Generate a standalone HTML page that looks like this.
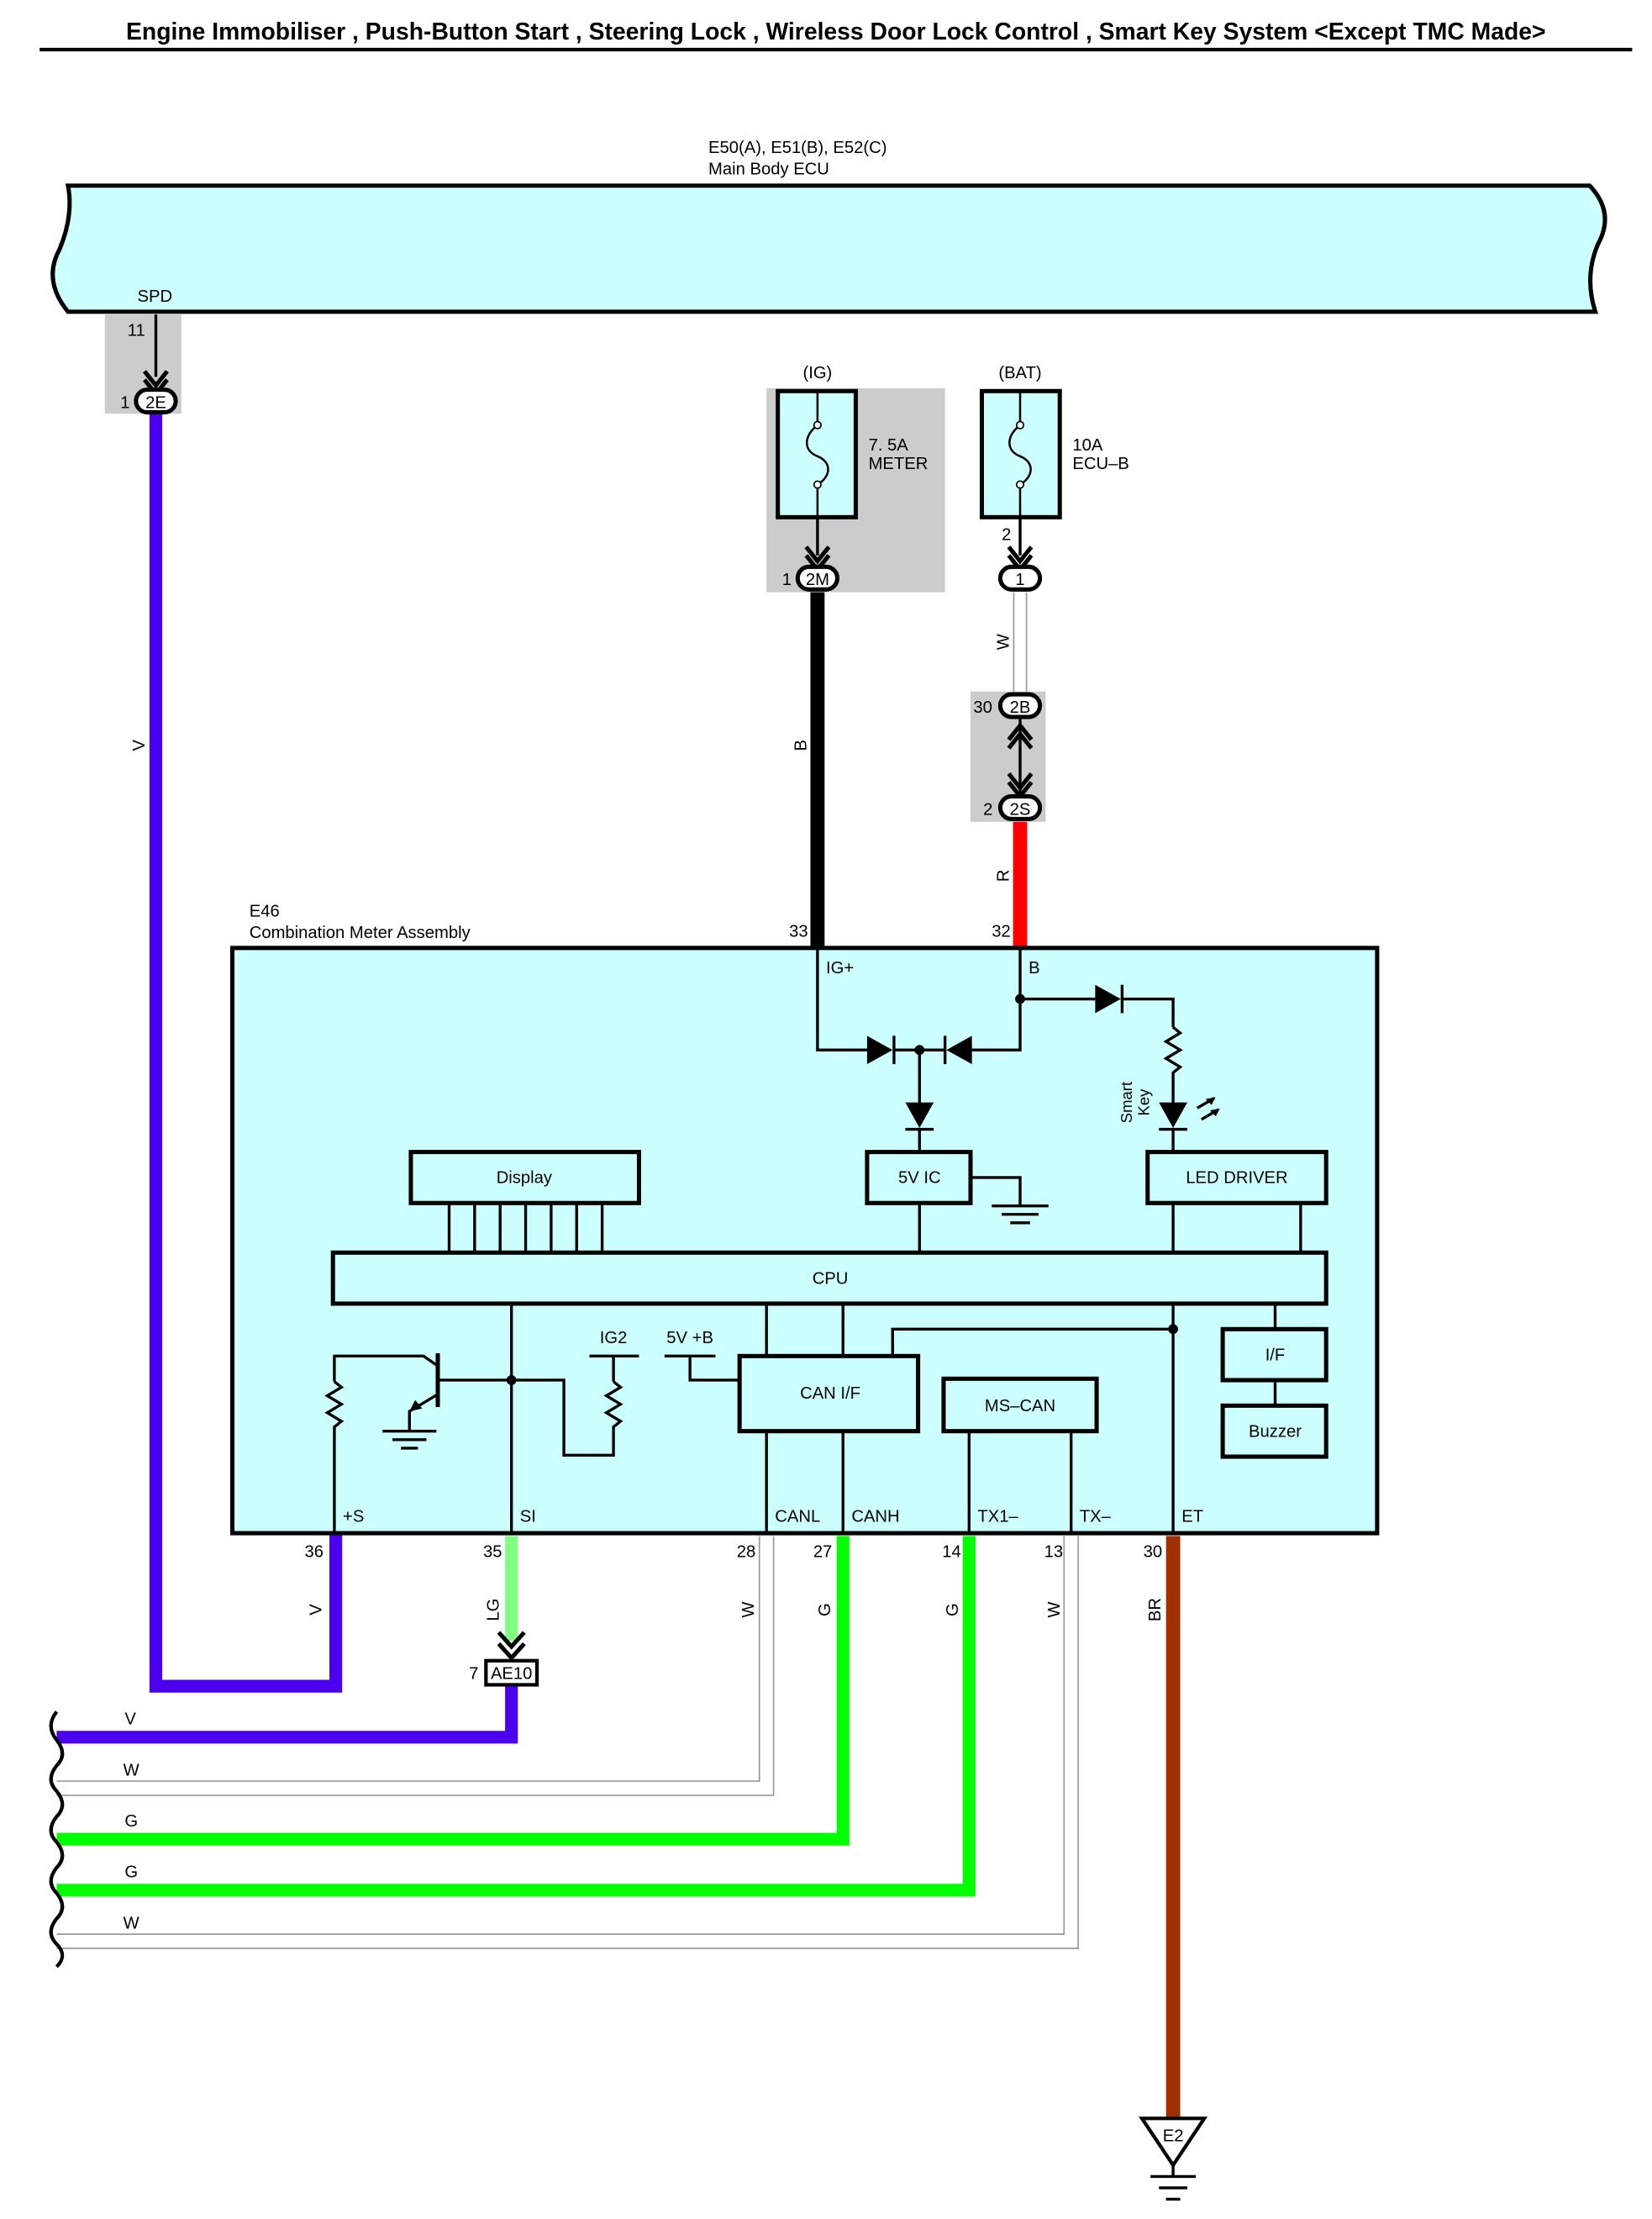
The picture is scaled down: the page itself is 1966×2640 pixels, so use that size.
<!DOCTYPE html>
<html><head><meta charset="utf-8"><style>
html,body{margin:0;padding:0;background:#fff}
svg{display:block}
text{font-family:"Liberation Sans",sans-serif;font-size:12px;fill:#000}
</style></head><body>
<svg width="1966" height="2640" viewBox="0 0 1166 1566" preserveAspectRatio="none" xmlns="http://www.w3.org/2000/svg">
<text x="590" y="28" text-anchor="middle" style="font-size:16.8px;font-weight:bold">Engine Immobiliser , Push-Button Start , Steering Lock , Wireless Door Lock Control , Smart Key System &lt;Except TMC Made&gt;</text>
<line x1="28" y1="35" x2="1152" y2="35" stroke="#000" stroke-width="2.5"/>

<!-- ECU -->
<text x="500" y="108">E50(A), E51(B), E52(C)</text>
<text x="500" y="123">Main Body ECU</text>
<path d="M48,131 L1122,131 Q1140,150 1128,172 Q1118,195 1126,220 L48,220 Q30,198 42,176 Q52,152 48,131 Z" fill="#ccffff" stroke="#000" stroke-width="3"/>
<text x="97" y="213">SPD</text>
<rect x="74" y="222" width="54" height="70" fill="#cccccc"/>
<text x="90" y="237">11</text>
<line x1="110" y1="222" x2="110" y2="266" stroke="#000" stroke-width="2"/>
<path d="M102,262 L110,272 L118,262 M102,268 L110,278 L118,268" fill="none" stroke="#000" stroke-width="3"/>
<path d="M110,292 L110,1190 L237,1190 L237,1082" fill="none" stroke="#4b00ee" stroke-width="9"/>
<rect x="96" y="275" width="28" height="16" rx="8" fill="#fff" stroke="#000" stroke-width="3"/>
<text x="110" y="288" text-anchor="middle">2E</text>
<text x="85" y="288">1</text>
<text transform="translate(102,526) rotate(-90)" text-anchor="middle">V</text>

<!-- IG fuse -->
<rect x="541" y="274" width="126" height="144" fill="#cccccc"/>
<text x="577" y="267" text-anchor="middle">(IG)</text>
<rect x="549" y="276" width="55" height="89" fill="#ccffff" stroke="#000" stroke-width="3"/>
<path d="M577,290 L577,300 C567,308 567,318 577,322 C587,326 587,336 577,342 L577,352" fill="none" stroke="#000" stroke-width="1.5"/>
<circle cx="577" cy="300" r="2.5" fill="#fff" stroke="#000"/><circle cx="577" cy="342" r="2.5" fill="#fff" stroke="#000"/>
<line x1="577" y1="276" x2="577" y2="290" stroke="#000" stroke-width="1.5"/>
<line x1="577" y1="352" x2="577" y2="365" stroke="#000" stroke-width="1.5"/>
<text x="613" y="318">7. 5A</text><text x="613" y="331">METER</text>
<line x1="577" y1="365" x2="577" y2="392" stroke="#000" stroke-width="2"/>
<path d="M569,386 L577,396 L585,386 M569,392 L577,402 L585,392" fill="none" stroke="#000" stroke-width="3"/>
<line x1="577" y1="418" x2="577" y2="670" stroke="#000" stroke-width="10"/>
<rect x="563" y="400" width="28" height="16" rx="8" fill="#fff" stroke="#000" stroke-width="3"/>
<text x="577" y="413" text-anchor="middle">2M</text>
<text x="552" y="413">1</text>
<text transform="translate(569,526) rotate(-90)" text-anchor="middle">B</text>
<text x="557" y="661">33</text>

<!-- BAT fuse -->
<text x="720" y="267" text-anchor="middle">(BAT)</text>
<rect x="693" y="276" width="55" height="89" fill="#ccffff" stroke="#000" stroke-width="3"/>
<path d="M720,276 L720,300 C710,308 710,318 720,322 C730,326 730,336 720,342 L720,365" fill="none" stroke="#000" stroke-width="1.5"/>
<circle cx="720" cy="300" r="2.5" fill="#fff" stroke="#000"/><circle cx="720" cy="342" r="2.5" fill="#fff" stroke="#000"/>
<text x="757" y="318">10A</text><text x="757" y="331">ECU–B</text>
<text x="707" y="381">2</text>
<line x1="720" y1="365" x2="720" y2="392" stroke="#000" stroke-width="2"/>
<path d="M712,386 L720,396 L728,386 M712,392 L720,402 L728,392" fill="none" stroke="#000" stroke-width="3"/>
<line x1="720" y1="418" x2="720" y2="490" stroke="#999" stroke-width="10"/>
<line x1="720" y1="418" x2="720" y2="490" stroke="#fff" stroke-width="8"/>
<rect x="706" y="400" width="28" height="16" rx="8" fill="#fff" stroke="#000" stroke-width="3"/>
<text x="720" y="413" text-anchor="middle">1</text>
<text transform="translate(712,453) rotate(-90)" text-anchor="middle">W</text>
<rect x="685" y="488" width="53" height="92" fill="#cccccc"/>
<text x="687" y="503">30</text>
<text x="694" y="575">2</text>
<line x1="720" y1="506" x2="720" y2="562" stroke="#000" stroke-width="2"/>
<path d="M712,522 L720,512 L728,522 M712,528 L720,518 L728,528" fill="none" stroke="#000" stroke-width="3"/>
<path d="M712,546 L720,556 L728,546 M712,552 L720,562 L728,552" fill="none" stroke="#000" stroke-width="3"/>
<rect x="706" y="490" width="28" height="16" rx="8" fill="#fff" stroke="#000" stroke-width="3"/>
<text x="720" y="503" text-anchor="middle">2B</text>
<rect x="706" y="562" width="28" height="16" rx="8" fill="#fff" stroke="#000" stroke-width="3"/>
<text x="720" y="575" text-anchor="middle">2S</text>
<line x1="720" y1="580" x2="720" y2="670" stroke="#ff0000" stroke-width="10"/>
<text transform="translate(712,618) rotate(-90)" text-anchor="middle">R</text>
<text x="700" y="661">32</text>

<!-- E46 -->
<text x="176" y="647">E46</text>
<text x="176" y="662">Combination Meter Assembly</text>
<rect x="164" y="669" width="808" height="413" fill="#ccffff" stroke="#000" stroke-width="3"/>
<g fill="none" stroke="#000" stroke-width="2">
<path d="M577,669 L577,741 L612,741 M632,741 L666,741 M686,741 L720,741 L720,669"/>
<path d="M720,705 L773,705 M793,705 L828,705 L828,725"/>
<path d="M828,725 L833,729 L823,735 L833,741 L823,747 L833,753 L828,757 L828,778"/>
<path d="M828,796 L828,813"/>
<path d="M649,741 L649,778 M649,796 L649,813"/>
<path d="M685,831 L720,831 L720,851"/>
<path d="M649,849 L649,884 M828,849 L828,884 M918,849 L918,884"/>
<path d="M317,849 L317,884 M335,849 L335,884 M353,849 L353,884 M371,849 L371,884 M389,849 L389,884 M407,849 L407,884 M425,849 L425,884"/>
<path d="M361,920 L361,1082"/>
<path d="M309,974 L361,974 M361,974 L398,974 L398,1027 L433,1027 L433,1010"/>
<path d="M433,975 L438,979 L428,985 L438,991 L428,997 L438,1003 L433,1007 L433,1010 M433,975 L433,957"/>
<path d="M416,957 L451,957 M469,957 L505,957 M487,957 L487,974 L522,974"/>
<path d="M309,964 L299,957 L236,957 L236,975 M236,975 L241,979 L231,985 L241,991 L231,997 L241,1003 L236,1007 L236,1082"/>
<path d="M309,984 L289,996 L289,1010"/>
<path d="M541,920 L541,957 M595,920 L595,957 M541,1010 L541,1082 M595,1010 L595,1082"/>
<path d="M630,957 L630,938 L828,938"/>
<path d="M828,920 L828,1082"/>
<path d="M684,1010 L684,1082 M756,1010 L756,1082"/>
<path d="M900,920 L900,938 M900,974 L900,992"/>
<path d="M700,851 L740,851 M707,857 L733,857 M713,863 L727,863"/>
<path d="M270,1010 L308,1010 M277,1016 L301,1016 M283,1022 L295,1022"/>
<path d="M845,782 L857,775 M848,790 L860,783"/>
</g>
<line x1="309" y1="955" x2="309" y2="993" stroke="#000" stroke-width="3"/>
<path d="M289,996 L293,988 L298,994 Z" fill="#000"/>
<path d="M612,731 L612,751 L630,741 Z" fill="#000"/><line x1="631" y1="731" x2="631" y2="751" stroke="#000" stroke-width="2"/>
<path d="M686,731 L686,751 L668,741 Z" fill="#000"/><line x1="667" y1="731" x2="667" y2="751" stroke="#000" stroke-width="2"/>
<path d="M773,695 L773,715 L791,705 Z" fill="#000"/><line x1="792" y1="695" x2="792" y2="715" stroke="#000" stroke-width="2"/>
<path d="M639,778 L659,778 L649,796 Z" fill="#000"/><line x1="639" y1="797" x2="659" y2="797" stroke="#000" stroke-width="2"/>
<path d="M818,778 L838,778 L828,796 Z" fill="#000"/><line x1="818" y1="797" x2="838" y2="797" stroke="#000" stroke-width="2"/>
<path d="M857,775 L852,776 L855,779 Z M860,783 L855,784 L858,787 Z" fill="#000" stroke="#000"/>
<circle cx="649" cy="741" r="3.5" fill="#000"/><circle cx="720" cy="705" r="3.5" fill="#000"/>
<circle cx="361" cy="974" r="3.5" fill="#000"/><circle cx="828" cy="938" r="3.5" fill="#000"/>
<text transform="translate(799,778) rotate(-90)" text-anchor="middle" style="font-size:11px">Smart</text>
<text transform="translate(811,778) rotate(-90)" text-anchor="middle" style="font-size:11px">Key</text>
<text x="583" y="687">IG+</text><text x="726" y="687">B</text>
<g fill="#ccffff" stroke="#000" stroke-width="3">
<rect x="290" y="813" width="161" height="36"/>
<rect x="612" y="813" width="73" height="36"/>
<rect x="810" y="813" width="126" height="36"/>
<rect x="235" y="884" width="701" height="36"/>
<rect x="522" y="957" width="126" height="53"/>
<rect x="666" y="973" width="108" height="37"/>
<rect x="863" y="938" width="73" height="36"/>
<rect x="863" y="992" width="73" height="36"/>
</g>
<g text-anchor="middle">
<text x="370" y="835">Display</text><text x="649" y="835">5V IC</text><text x="873" y="835">LED DRIVER</text>
<text x="586" y="906">CPU</text><text x="586" y="987">CAN I/F</text><text x="720" y="996">MS–CAN</text>
<text x="900" y="960">I/F</text><text x="900" y="1014">Buzzer</text>
<text x="433" y="948">IG2</text><text x="487" y="948">5V +B</text>
</g>
<text x="242" y="1074">+S</text><text x="367" y="1074">SI</text><text x="547" y="1074">CANL</text><text x="601" y="1074">CANH</text>
<text x="690" y="1074">TX1–</text><text x="762" y="1074">TX–</text><text x="834" y="1074">ET</text>
<text x="215" y="1099">36</text><text x="341" y="1099">35</text><text x="520" y="1099">28</text><text x="574" y="1099">27</text>
<text x="665" y="1099">14</text><text x="737" y="1099">13</text><text x="807" y="1099">30</text>

<line x1="361" y1="1084" x2="361" y2="1158" stroke="#80ff80" stroke-width="9"/>
<path d="M352,1152 L361,1162 L370,1152 M352,1160 L361,1170 L370,1160" fill="none" stroke="#000" stroke-width="3"/>
<path d="M361,1188 L361,1226 L40,1226" fill="none" stroke="#4b00ee" stroke-width="9"/>
<rect x="343" y="1172" width="36" height="17" fill="#fff" stroke="#000" stroke-width="2.5"/>
<text x="361" y="1185" text-anchor="middle">AE10</text><text x="331" y="1185">7</text>
<path d="M541,1084 L541,1262 L40,1262" fill="none" stroke="#999" stroke-width="11"/>
<path d="M541,1084 L541,1262 L40,1262" fill="none" stroke="#fff" stroke-width="9"/>
<path d="M756,1084 L756,1370 L40,1370" fill="none" stroke="#999" stroke-width="11"/>
<path d="M756,1084 L756,1370 L40,1370" fill="none" stroke="#fff" stroke-width="9"/>
<path d="M595,1084 L595,1298 L40,1298" fill="none" stroke="#00ff00" stroke-width="9"/>
<path d="M684,1084 L684,1334 L40,1334" fill="none" stroke="#00ff00" stroke-width="9"/>
<line x1="828" y1="1084" x2="828" y2="1495" stroke="#a03000" stroke-width="10"/>
<path d="M806,1495 L850,1495 L828,1528 Z" fill="#fff" stroke="#000" stroke-width="2.5"/>
<text x="828" y="1511" text-anchor="middle">E2</text>
<path d="M828,1528 L828,1536 M812,1536 L844,1536 M818,1544 L838,1544 M823,1552 L833,1552" stroke="#000" stroke-width="2"/>
<path d="M40,1208 Q32,1218 40,1228 Q48,1238 40,1246 Q32,1256 40,1264 Q48,1274 40,1282 Q32,1292 40,1300 Q48,1310 40,1318 Q32,1328 40,1336 Q48,1346 40,1354 Q32,1364 40,1372 Q48,1380 40,1388" fill="none" stroke="#000" stroke-width="2.5"/>
<text x="88" y="1217">V</text><text x="87" y="1253">W</text><text x="88" y="1289">G</text><text x="88" y="1325">G</text><text x="87" y="1361">W</text>
<g text-anchor="middle">
<text transform="translate(227,1136) rotate(-90)">V</text>
<text transform="translate(352,1136) rotate(-90)">LG</text>
<text transform="translate(532,1136) rotate(-90)">W</text>
<text transform="translate(586,1136) rotate(-90)">G</text>
<text transform="translate(676,1136) rotate(-90)">G</text>
<text transform="translate(748,1136) rotate(-90)">W</text>
<text transform="translate(819,1136) rotate(-90)">BR</text>
</g>
</svg>
</body></html>
